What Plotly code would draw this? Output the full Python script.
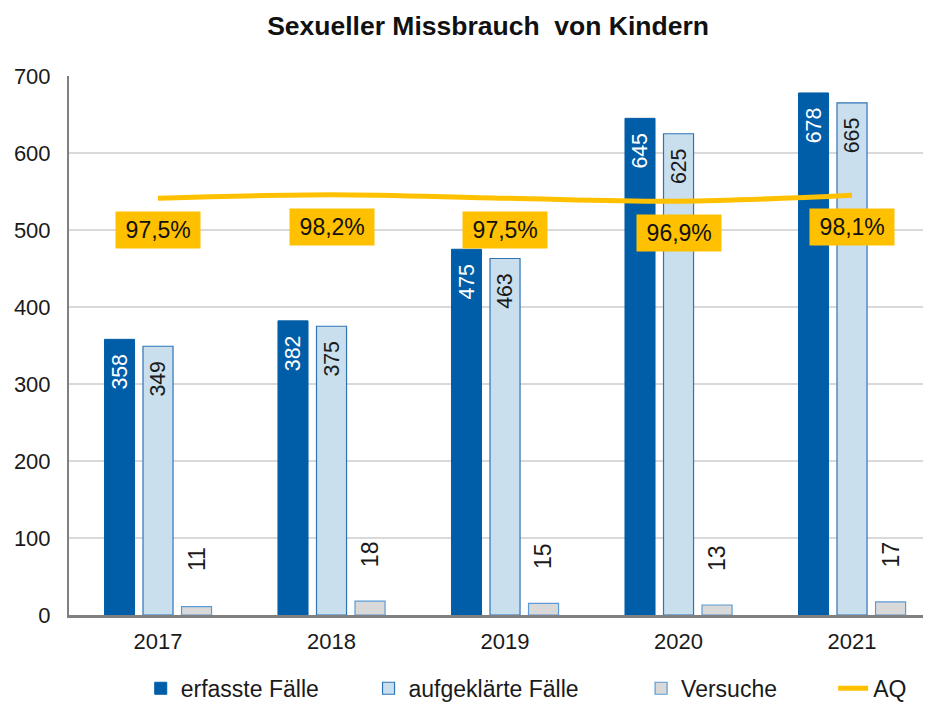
import plotly.graph_objects as go

years = ["2017", "2018", "2019", "2020", "2021"]
erfasst = [358, 382, 475, 645, 678]
aufgeklaert = [349, 375, 463, 625, 665]
versuche = [11, 18, 15, 13, 17]
aq = [97.5, 98.2, 97.5, 96.9, 98.1]
aq_labels = ["97,5%", "98,2%", "97,5%", "96,9%", "98,1%"]
series_names = ["erfasste Fälle", "aufgeklärte Fälle", "Versuche", "AQ"]

FONT = "Liberation Sans, Arial, sans-serif"
PAD = [7, 9, 8, 0]  # legend spacing (non-breaking spaces)


def legend_name(i):
    return series_names[i] + "&nbsp;" * PAD[i]


fig = go.Figure()
fig.add_trace(go.Bar(
    x=years, y=erfasst, name=legend_name(0),
    marker=dict(color="#005EA8", line=dict(color="#005EA8", width=1)),
    text=[f"{v}  " for v in erfasst], textposition="inside", insidetextanchor="end",
    textangle=-90, insidetextfont=dict(color="white", size=23, family=FONT),
))
fig.add_trace(go.Bar(
    x=years, y=aufgeklaert, name=legend_name(1),
    marker=dict(color="#C9DFEE", line=dict(color="#2E75B6", width=1.2)),
    text=[f"{v}  " for v in aufgeklaert], textposition="inside", insidetextanchor="end",
    textangle=-90, insidetextfont=dict(color="#1a1a1a", size=23, family=FONT),
))
fig.add_trace(go.Bar(
    x=years, y=versuche, name=legend_name(2),
    marker=dict(color="#D9D9D9", line=dict(color="#5B9BD5", width=1.2)),
))
fig.add_trace(go.Scatter(
    x=years, y=aq, name=legend_name(3), yaxis="y2", mode="lines",
    line=dict(color="#FFC000", width=5, shape="spline"),
))

annotations = []
for i, v in enumerate(versuche):
    annotations.append(dict(
        x=i, y=v, xref="x", yref="y", text=str(v), showarrow=False,
        textangle=-90, xshift=38.5, yshift=47, yanchor="middle",
        font=dict(size=23, color="#1a1a1a", family=FONT),
    ))
for i, (v, lab) in enumerate(zip(aq, aq_labels)):
    annotations.append(dict(
        x=i, y=v, xref="x", yref="y2", text="\u2009" + lab + "\u2009", showarrow=False,
        yshift=-32, bgcolor="#FFC000", borderpad=5,
        font=dict(size=23, color="#111111", family=FONT),
    ))

fig.update_layout(
    width=917, height=695,
    margin=dict(l=61, r=2, t=68, b=88, autoexpand=False),
    paper_bgcolor="white", plot_bgcolor="white",
    font=dict(family=FONT, size=22, color="#1a1a1a"),
    title=dict(text="<b>Sexueller Missbrauch  von Kindern</b>", x=0.5235, xanchor="center",
               y=0.974, yanchor="middle", font=dict(size=26.5, color="#111111")),
    barmode="group", bargap=0.334, bargroupgap=0.22,
    xaxis=dict(type="category", range=[-0.513, 4.409], showgrid=False, automargin=False,
               showline=True, linecolor="#808080", linewidth=3,
               ticks="", tickfont=dict(size=22), ticklabelstandoff=5),
    yaxis=dict(range=[0, 700], dtick=100, showgrid=True, gridcolor="#D9D9D9", gridwidth=1.5,
               showline=True, linecolor="#808080", linewidth=2, zeroline=False, automargin=False,
               ticks="", tickfont=dict(size=22), ticklabelstandoff=12),
    yaxis2=dict(range=[14, 122], overlaying="y", side="right", visible=False),
    legend=dict(orientation="h", x=0.084, xanchor="left", y=-0.136, yanchor="middle",
                font=dict(size=23), traceorder="normal"),
    annotations=annotations,
    showlegend=True,
)

fig.write_html("out.html")
